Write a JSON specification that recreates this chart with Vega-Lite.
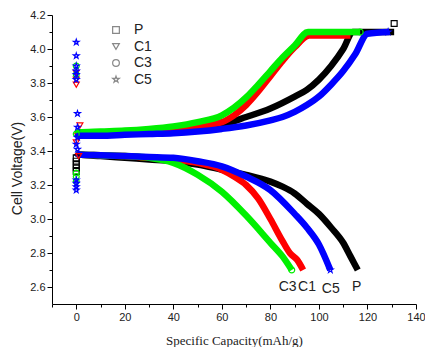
{
  "$schema": "https://vega.github.io/schema/vega-lite/v6.json",
  "autosize": {"type": "none"},
  "width": 364,
  "height": 289,
  "padding": {"left": 52, "top": 15, "right": 9, "bottom": 43},
  "background": "white",
  "config": {
    "view": {"stroke": null},
    "axis": {
      "grid": false,
      "domainColor": "#000",
      "tickColor": "#000",
      "labelColor": "#222",
      "labelFont": "Liberation Sans",
      "labelFontSize": 11,
      "tickSize": 5,
      "labelOverlap": false,
      "labelBound": false,
      "labelFlush": false,
      "titleColor": "#222",
      "titleFontWeight": "normal"
    }
  },
  "datasets": {
    "curves": [
      {"s":"P","b":"c","x":0,"y":3.50},{"s":"P","b":"c","x":1,"y":3.51},{"s":"P","b":"c","x":10,"y":3.51},{"s":"P","b":"c","x":20,"y":3.515},{"s":"P","b":"c","x":30,"y":3.52},{"s":"P","b":"c","x":40,"y":3.525},{"s":"P","b":"c","x":50,"y":3.535},{"s":"P","b":"c","x":60,"y":3.555},{"s":"P","b":"c","x":70,"y":3.60},{"s":"P","b":"c","x":80,"y":3.65},{"s":"P","b":"c","x":90,"y":3.72},{"s":"P","b":"c","x":95,"y":3.76},{"s":"P","b":"c","x":100,"y":3.82},{"s":"P","b":"c","x":105,"y":3.90},{"s":"P","b":"c","x":110,"y":4.0},{"s":"P","b":"c","x":114,"y":4.1},{"s":"P","b":"c","x":131,"y":4.1},
      {"s":"P","b":"d","x":0,"y":3.39},{"s":"P","b":"d","x":1,"y":3.38},{"s":"P","b":"d","x":10,"y":3.37},{"s":"P","b":"d","x":20,"y":3.36},{"s":"P","b":"d","x":30,"y":3.35},{"s":"P","b":"d","x":40,"y":3.34},{"s":"P","b":"d","x":50,"y":3.32},{"s":"P","b":"d","x":60,"y":3.29},{"s":"P","b":"d","x":70,"y":3.26},{"s":"P","b":"d","x":80,"y":3.22},{"s":"P","b":"d","x":85,"y":3.19},{"s":"P","b":"d","x":90,"y":3.15},{"s":"P","b":"d","x":95,"y":3.09},{"s":"P","b":"d","x":100,"y":3.03},{"s":"P","b":"d","x":105,"y":2.95},{"s":"P","b":"d","x":110,"y":2.86},{"s":"P","b":"d","x":113,"y":2.78},{"s":"P","b":"d","x":116,"y":2.70},
      {"s":"C1","b":"c","x":0,"y":3.49},{"s":"C1","b":"c","x":1,"y":3.50},{"s":"C1","b":"c","x":10,"y":3.505},{"s":"C1","b":"c","x":20,"y":3.51},{"s":"C1","b":"c","x":30,"y":3.52},{"s":"C1","b":"c","x":40,"y":3.53},{"s":"C1","b":"c","x":50,"y":3.545},{"s":"C1","b":"c","x":60,"y":3.57},{"s":"C1","b":"c","x":65,"y":3.61},{"s":"C1","b":"c","x":70,"y":3.67},{"s":"C1","b":"c","x":75,"y":3.75},{"s":"C1","b":"c","x":80,"y":3.84},{"s":"C1","b":"c","x":85,"y":3.93},{"s":"C1","b":"c","x":90,"y":4.01},{"s":"C1","b":"c","x":96,"y":4.08},{"s":"C1","b":"c","x":113,"y":4.08},
      {"s":"C1","b":"d","x":0,"y":3.39},{"s":"C1","b":"d","x":1,"y":3.38},{"s":"C1","b":"d","x":10,"y":3.375},{"s":"C1","b":"d","x":20,"y":3.37},{"s":"C1","b":"d","x":30,"y":3.36},{"s":"C1","b":"d","x":40,"y":3.35},{"s":"C1","b":"d","x":50,"y":3.33},{"s":"C1","b":"d","x":60,"y":3.29},{"s":"C1","b":"d","x":65,"y":3.25},{"s":"C1","b":"d","x":70,"y":3.20},{"s":"C1","b":"d","x":75,"y":3.12},{"s":"C1","b":"d","x":80,"y":3.00},{"s":"C1","b":"d","x":85,"y":2.87},{"s":"C1","b":"d","x":88,"y":2.80},{"s":"C1","b":"d","x":91,"y":2.76},{"s":"C1","b":"d","x":93.5,"y":2.70},
      {"s":"C3","b":"c","x":0,"y":3.50},{"s":"C3","b":"c","x":1,"y":3.51},{"s":"C3","b":"c","x":10,"y":3.515},{"s":"C3","b":"c","x":20,"y":3.52},{"s":"C3","b":"c","x":30,"y":3.53},{"s":"C3","b":"c","x":40,"y":3.545},{"s":"C3","b":"c","x":50,"y":3.57},{"s":"C3","b":"c","x":60,"y":3.61},{"s":"C3","b":"c","x":65,"y":3.655},{"s":"C3","b":"c","x":70,"y":3.715},{"s":"C3","b":"c","x":75,"y":3.79},{"s":"C3","b":"c","x":80,"y":3.87},{"s":"C3","b":"c","x":85,"y":3.95},{"s":"C3","b":"c","x":90,"y":4.02},{"s":"C3","b":"c","x":95.5,"y":4.10},{"s":"C3","b":"c","x":117,"y":4.10},
      {"s":"C3","b":"d","x":0,"y":3.39},{"s":"C3","b":"d","x":1,"y":3.38},{"s":"C3","b":"d","x":10,"y":3.375},{"s":"C3","b":"d","x":20,"y":3.37},{"s":"C3","b":"d","x":30,"y":3.36},{"s":"C3","b":"d","x":40,"y":3.33},{"s":"C3","b":"d","x":50,"y":3.26},{"s":"C3","b":"d","x":60,"y":3.16},{"s":"C3","b":"d","x":70,"y":3.02},{"s":"C3","b":"d","x":80,"y":2.86},{"s":"C3","b":"d","x":85,"y":2.78},{"s":"C3","b":"d","x":88.8,"y":2.70},
      {"s":"C5","b":"c","x":0,"y":3.48},{"s":"C5","b":"c","x":1,"y":3.49},{"s":"C5","b":"c","x":10,"y":3.49},{"s":"C5","b":"c","x":20,"y":3.495},{"s":"C5","b":"c","x":30,"y":3.50},{"s":"C5","b":"c","x":40,"y":3.505},{"s":"C5","b":"c","x":50,"y":3.515},{"s":"C5","b":"c","x":60,"y":3.53},{"s":"C5","b":"c","x":70,"y":3.55},{"s":"C5","b":"c","x":80,"y":3.58},{"s":"C5","b":"c","x":85,"y":3.60},{"s":"C5","b":"c","x":90,"y":3.63},{"s":"C5","b":"c","x":95,"y":3.67},{"s":"C5","b":"c","x":100,"y":3.72},{"s":"C5","b":"c","x":105,"y":3.79},{"s":"C5","b":"c","x":110,"y":3.87},{"s":"C5","b":"c","x":115,"y":3.97},{"s":"C5","b":"c","x":120,"y":4.09},{"s":"C5","b":"c","x":129,"y":4.10},
      {"s":"C5","b":"d","x":0,"y":3.39},{"s":"C5","b":"d","x":1,"y":3.38},{"s":"C5","b":"d","x":10,"y":3.375},{"s":"C5","b":"d","x":20,"y":3.37},{"s":"C5","b":"d","x":30,"y":3.365},{"s":"C5","b":"d","x":40,"y":3.36},{"s":"C5","b":"d","x":50,"y":3.34},{"s":"C5","b":"d","x":60,"y":3.31},{"s":"C5","b":"d","x":70,"y":3.25},{"s":"C5","b":"d","x":80,"y":3.17},{"s":"C5","b":"d","x":90,"y":3.03},{"s":"C5","b":"d","x":95,"y":2.95},{"s":"C5","b":"d","x":100,"y":2.85},{"s":"C5","b":"d","x":104.7,"y":2.70}
    ],
    "pts": [
      {"s":"P","x":0,"y":3.28},{"s":"P","x":0,"y":3.30},{"s":"P","x":0,"y":3.32},{"s":"P","x":0,"y":3.34},{"s":"P","x":0,"y":3.36},{"s":"P","x":131,"y":4.15},
      {"s":"C1","x":0,"y":3.79},{"s":"C1","x":0,"y":3.82},{"s":"C1","x":0,"y":3.86},{"s":"C1","x":1.5,"y":3.55},{"s":"C1","x":0,"y":3.45},{"s":"C1","x":1,"y":3.37},
      {"s":"C3","x":0,"y":3.90},{"s":"C3","x":0,"y":3.85},{"s":"C3","x":0,"y":3.50},{"s":"C3","x":0,"y":3.27},{"s":"C3","x":0,"y":3.25},{"s":"C3","x":0,"y":3.22},{"s":"C3","x":88.8,"y":2.70},{"s":"C3","x":117,"y":4.10},
      {"s":"C5","x":0,"y":4.04},{"s":"C5","x":0,"y":3.96},{"s":"C5","x":0,"y":3.90},{"s":"C5","x":0,"y":3.87},{"s":"C5","x":0,"y":3.85},{"s":"C5","x":0,"y":3.82},{"s":"C5","x":0.5,"y":3.62},{"s":"C5","x":0.5,"y":3.54},{"s":"C5","x":0.5,"y":3.48},{"s":"C5","x":0,"y":3.44},{"s":"C5","x":0.5,"y":3.41},{"s":"C5","x":0,"y":3.23},{"s":"C5","x":0,"y":3.21},{"s":"C5","x":0,"y":3.19},{"s":"C5","x":0,"y":3.17},{"s":"C5","x":104.7,"y":2.70},{"s":"C5","x":128.5,"y":4.10}
    ],
    "labels": [
      {"t":"C3","x":87.1,"y":2.60},{"t":"C1","x":95.1,"y":2.60},{"t":"C5","x":104.9,"y":2.59},{"t":"P","x":115.6,"y":2.60}
    ]
  },
  "resolve": {"legend": {"color": "independent"}, "axis": {"x": "independent", "y": "independent"}},
  "layer": [
    {
      "data": {"name": "curves"},
      "mark": {"type": "line", "strokeWidth": 6.5, "interpolate": "monotone"},
      "encoding": {
        "x": {"field": "x", "type": "quantitative", "scale": {"domain": [-10, 140], "nice": false, "zero": false},
          "axis": {"orient": "bottom", "title": "Specific Capacity(mAh/g)", "titleFont": "Liberation Serif", "titleFontSize": 13, "titleY": 40.5, "titleBaseline": "alphabetic",
            "values": [0,20,40,60,80,100,120,140], "format": "d"}},
        "y": {"field": "y", "type": "quantitative", "scale": {"domain": [2.5, 4.2], "nice": false, "zero": false},
          "axis": {"orient": "left", "title": "Cell Voltage(V)", "titleFont": "Liberation Sans", "titleFontSize": 14, "titleX": -30.5, "titleY": 153, "titleBaseline": "alphabetic",
            "values": [2.6,2.8,3.0,3.2,3.4,3.6,3.8,4.0,4.2], "format": ".1f"}},
        "color": {"field": "s", "type": "nominal", "scale": {"domain": ["P","C1","C3","C5"], "range": ["#000000","#ff0000","#00f000","#0000ff"]}, "legend": null},
        "detail": {"field": "b"},
        "order": {"field": "x", "type": "quantitative"}
      }
    },
    {
      "data": {"name": "pts"},
      "mark": {"type": "point", "filled": false, "size": 35, "strokeWidth": 1.2, "opacity": 1},
      "encoding": {
        "x": {"field": "x", "type": "quantitative", "axis": {"orient": "bottom", "title": null, "labels": false, "domain": false, "tickSize": 3, "values": [-10,10,30,50,70,90,110,130]}},
        "y": {"field": "y", "type": "quantitative", "axis": {"orient": "left", "title": null, "labels": false, "domain": false, "tickSize": 3, "values": [2.7,2.9,3.1,3.3,3.5,3.7,3.9,4.1]}},
        "color": {"field": "s", "type": "nominal", "legend": null},
        "shape": {"field": "s", "type": "nominal", "scale": {"domain": ["P","C1","C3","C5"], "range": ["square","triangle-down","circle","M0,-1L0.2245,-0.309L0.951,-0.309L0.363,0.118L0.588,0.809L0,0.382L-0.588,0.809L-0.363,0.118L-0.951,-0.309L-0.2245,-0.309Z"]},
          "legend": {"orient": "none", "legendX": 57, "legendY": 8, "title": null, "labelFont": "Liberation Sans", "labelFontSize": 14, "labelColor": "#222", "symbolSize": 45, "symbolStrokeWidth": 1.2, "rowPadding": 2.5, "labelOffset": 11, "padding": 0,
            "encode": {"symbols": {
              "stroke": {"condition": [
                {"test": "datum.value === 'C1'", "value": "#ff0000"},
                {"test": "datum.value === 'C3'", "value": "#00f000"},
                {"test": "datum.value === 'C5'", "value": "#0000ff"}
              ], "value": "#000000"},
              "fill": {"value": "transparent"}
            }}}}
      }
    },
    {
      "data": {"name": "labels"},
      "mark": {"type": "text", "fontSize": 14, "font": "Liberation Sans", "color": "#222"},
      "encoding": {
        "x": {"field": "x", "type": "quantitative", "axis": null},
        "y": {"field": "y", "type": "quantitative", "axis": null},
        "text": {"field": "t"}
      }
    }
  ]
}
